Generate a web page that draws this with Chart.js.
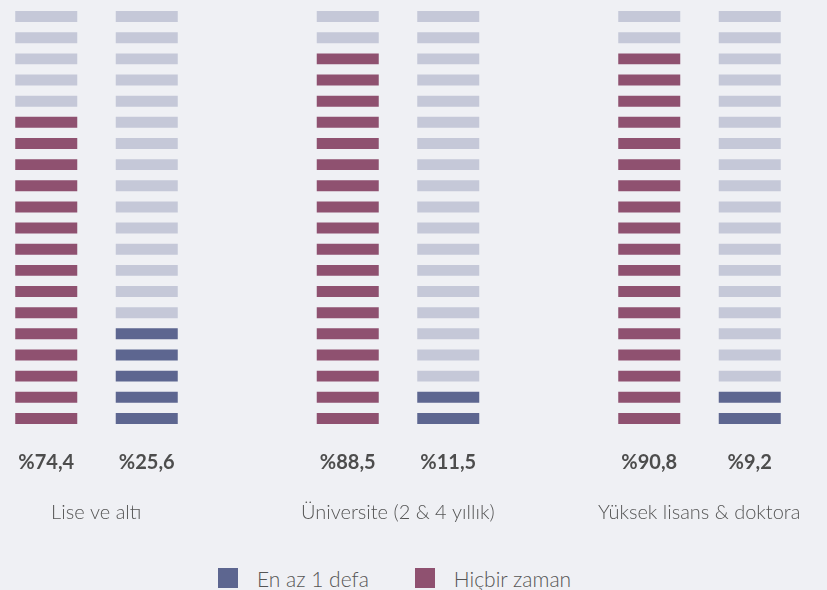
<!DOCTYPE html>
<html>
<head>
<meta charset="utf-8">
<script src="https://cdn.jsdelivr.net/npm/chart.js@4.4.0/dist/chart.umd.min.js"></script>
<style>
    html, body { margin: 0; padding: 0; background: #eff0f4; width: 827px; height: 590px; overflow: hidden; }
    #chart { position: absolute; left: -4px; top: 0; }
    #legend {
        position: absolute; top: 568px; left: 218px;
        display: flex; align-items: center;
        font-family: Lato, sans-serif; font-weight: 300; font-size: 21px; color: #555;
    }
    .item { display: flex; align-items: center; margin-right: 46px; height: 20px; }
    .box { width: 20px; height: 20px; margin-right: 19px; }
</style>
</head>
<body>
<canvas id="chart" width="831" height="525"></canvas>
<div id="legend"></div>
<script>
// ===============================================
// DATA
// ===============================================
const groups = ['Lise ve altı', 'Üniversite (2 & 4 yıllık)', 'Yüksek lisans & doktora'];
const neverPct = [74.4, 88.5, 90.8];   // Hiçbir zaman
const oncePct = [25.6, 11.5, 9.2];     // En az 1 defa
const seriesNames = ['En az 1 defa', 'Hiçbir zaman'];

const SEGMENTS = 20;
const COLORS = {
    once: '#5d6690',
    never: '#8f5170',
    empty: '#c5c8d8'
};

// columns: never, once, spacer, never, once, spacer, ...
const columns = [];
groups.forEach((g, i) => {
    columns.push({ pct: neverPct[i], color: COLORS.never, group: g });
    columns.push({ pct: oncePct[i], color: COLORS.once, group: '' });
    if (i < groups.length - 1) columns.push(null);
});

const pctLabels = columns.map(c => c ? '%' + c.pct.toFixed(1).replace('.', ',') : '');
const groupLabels = columns.map(c => c ? c.group : '');

// one dataset per segment level (bottom = 0)
const datasets = [];
for (let level = 0; level < SEGMENTS; level++) {
    datasets.push({
        label: 'seg' + level,
        data: columns.map(c => c ? [level + 0.24, level + 0.76] : null),
        backgroundColor: columns.map(c => {
            if (!c) return 'transparent';
            const filled = Math.round(c.pct / 100 * SEGMENTS);
            return level < filled ? c.color : COLORS.empty;
        }),
        borderWidth: 0,
        stack: 'col',
        barPercentage: 0.617,
        categoryPercentage: 1
    });
}

new Chart(document.getElementById('chart').getContext('2d'), {
    type: 'bar',
    data: { labels: pctLabels, datasets: datasets },
    options: {
        responsive: false,
        animation: false,
        layout: { padding: { left: 0, right: 27, top: 6, bottom: 0 } },
        plugins: {
            legend: { display: false },
            tooltip: { enabled: false }
        },
        scales: {
            x: {
                stacked: true,
                grid: { display: false, drawTicks: true, tickLength: 22 },
                border: { display: false },
                ticks: {
                    padding: 0,
                    color: '#4d4d4d',
                    font: { family: 'Lato', size: 20, weight: 'bold' },
                    maxRotation: 0,
                    autoSkip: false
                }
            },
            xg: {
                type: 'category',
                position: 'bottom',
                labels: groupLabels,
                offset: true,
                grid: { display: false, drawTicks: true, tickLength: 26 },
                border: { display: false },
                ticks: {
                    padding: 0,
                    labelOffset: 50,
                    color: '#555',
                    font: { family: 'Lato', size: 20, weight: '300' },
                    maxRotation: 0,
                    autoSkip: false
                }
            },
            y: {
                display: false,
                stacked: false,
                min: 0,
                max: SEGMENTS
            }
        }
    }
});

// legend
const legendEl = document.getElementById('legend');
[COLORS.once, COLORS.never].forEach((color, i) => {
    const item = document.createElement('div');
    item.className = 'item';
    item.innerHTML = '<span class="box" style="background:' + color + '"></span><span>' + seriesNames[i] + '</span>';
    legendEl.appendChild(item);
});
</script>
</body>
</html>
